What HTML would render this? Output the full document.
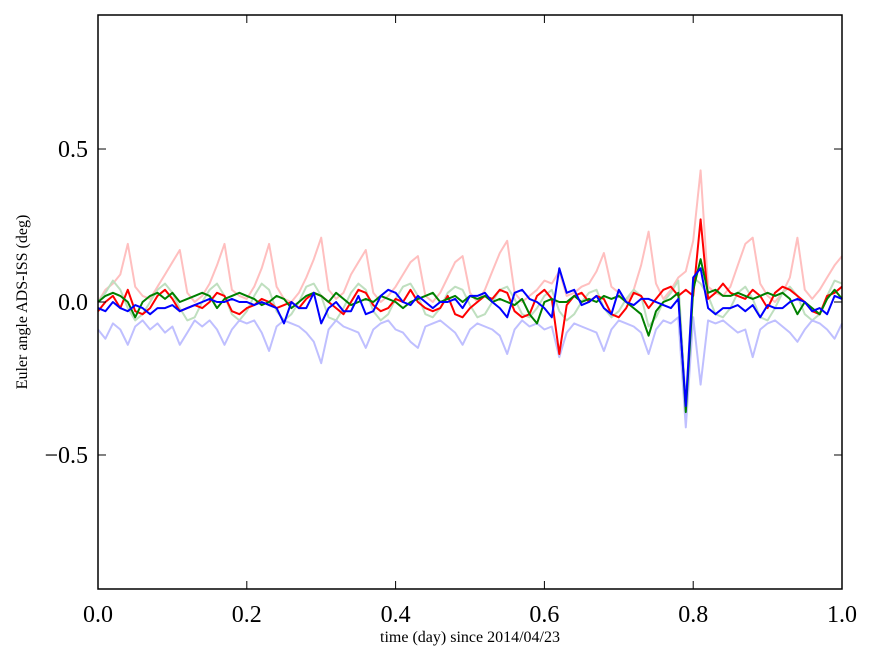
<!DOCTYPE html>
<html><head><meta charset="utf-8">
<style>
html,body{margin:0;padding:0;background:#fff;}
svg{display:block;font-family:"Liberation Serif",serif;}
</style></head>
<body>
<svg id="chart" width="875" height="662">
<g id="marks"></g>
<g id="axes"></g>
</svg>
<script>
// x values: 0..1 step 0.01
const pinkVals=[0.0,0.04,0.06,0.09,0.19,0.05,0.02,0.01,0.05,0.09,0.13,0.17,0.03,0.0,0.02,0.06,0.12,0.19,0.04,0.02,0.01,0.05,0.11,0.19,0.05,0.01,0.0,0.03,0.08,0.14,0.21,0.04,0.01,0.03,0.09,0.13,0.17,0.03,0.0,0.02,0.05,0.09,0.13,0.15,0.02,0.0,0.03,0.08,0.13,0.15,0.03,0.0,0.04,0.1,0.16,0.20,0.03,0.0,0.02,0.04,0.07,0.06,0.1,0.02,0.03,0.05,0.06,0.10,0.16,0.05,0.03,0.0,0.04,0.12,0.23,0.06,0.01,0.04,0.08,0.1,0.2,0.43,0.05,0.03,0.02,0.05,0.12,0.19,0.21,0.06,0.02,0.0,0.03,0.08,0.21,0.04,0.01,0.04,0.08,0.12,0.15];
const lightBlueVals=[-0.09,-0.12,-0.07,-0.09,-0.14,-0.08,-0.06,-0.09,-0.07,-0.1,-0.08,-0.14,-0.1,-0.06,-0.08,-0.06,-0.09,-0.14,-0.09,-0.06,-0.07,-0.06,-0.1,-0.16,-0.08,-0.06,-0.07,-0.08,-0.1,-0.13,-0.2,-0.09,-0.06,-0.08,-0.09,-0.1,-0.15,-0.09,-0.07,-0.06,-0.09,-0.1,-0.13,-0.15,-0.08,-0.07,-0.06,-0.08,-0.1,-0.14,-0.09,-0.07,-0.08,-0.09,-0.11,-0.17,-0.09,-0.06,-0.08,-0.07,-0.09,-0.08,-0.18,-0.1,-0.07,-0.08,-0.09,-0.1,-0.16,-0.09,-0.06,-0.07,-0.08,-0.1,-0.17,-0.09,-0.06,-0.07,-0.05,-0.41,-0.05,-0.27,-0.06,-0.07,-0.06,-0.08,-0.1,-0.09,-0.18,-0.09,-0.07,-0.06,-0.08,-0.1,-0.13,-0.09,-0.06,-0.07,-0.09,-0.12,-0.07];
const lightGreenVals=[0.0,0.03,0.07,0.04,-0.02,-0.06,-0.04,0.0,0.04,0.06,0.03,-0.02,-0.06,-0.05,0.0,0.04,0.06,0.02,-0.04,-0.06,-0.03,0.02,0.06,0.04,-0.03,-0.06,-0.04,0.0,0.05,0.06,0.02,-0.05,-0.06,-0.02,0.03,0.06,0.04,-0.03,-0.06,-0.04,0.01,0.05,0.06,0.02,-0.04,-0.05,-0.02,0.03,0.05,0.04,-0.01,-0.05,-0.04,0.0,0.04,0.05,0.01,-0.04,-0.05,-0.02,0.02,0.04,-0.03,-0.06,-0.04,0.0,0.03,0.04,-0.02,-0.05,-0.03,0.01,0.04,0.02,-0.08,-0.05,0.0,0.03,0.07,-0.33,0.08,0.06,0.02,-0.04,-0.05,-0.02,0.03,0.05,0.01,-0.05,-0.06,-0.02,0.03,0.05,0.02,-0.04,-0.06,-0.04,0.02,0.07,0.06];
const redVals=[-0.03,0.0,0.02,-0.02,0.04,-0.03,-0.04,-0.02,0.02,0.04,0.01,-0.03,-0.02,-0.01,-0.02,0.0,0.03,0.02,-0.03,-0.04,-0.02,-0.01,0.01,0.0,-0.02,-0.01,0.0,-0.02,0.01,0.03,0.02,0.0,-0.02,-0.04,0.0,0.04,0.03,-0.01,-0.03,-0.02,0.01,0.0,0.04,0.0,-0.02,-0.03,-0.02,0.02,-0.04,-0.05,-0.02,0.0,0.02,0.01,0.04,0.03,-0.03,-0.05,-0.04,0.02,0.04,0.01,-0.17,-0.01,0.02,0.03,0.0,0.02,0.01,-0.04,-0.05,-0.02,0.03,0.02,-0.02,0.01,0.04,0.05,0.02,0.04,0.02,0.27,0.01,0.03,0.06,0.03,0.02,0.01,0.04,0.02,-0.02,0.03,0.05,0.04,0.02,0.0,-0.03,-0.04,0.02,0.03,0.05];
const greenVals=[0.0,0.02,0.03,0.02,0.0,-0.05,0.0,0.02,0.03,0.01,0.03,0.0,0.01,0.02,0.03,0.02,-0.02,0.01,0.02,0.03,0.02,0.01,-0.01,0.0,0.02,0.01,-0.02,0.0,0.02,0.03,0.02,0.0,0.03,0.01,-0.01,0.0,0.01,0.0,0.02,0.01,0.0,-0.02,0.0,0.01,0.02,0.03,0.0,0.01,0.02,0.0,0.02,0.01,0.02,0.0,0.01,0.0,-0.01,0.01,-0.04,-0.07,0.0,0.01,0.0,0.0,0.02,0.0,0.01,0.0,0.02,0.01,0.02,0.0,-0.02,-0.04,-0.11,-0.03,0.0,0.01,0.03,-0.36,0.04,0.14,0.03,0.04,0.02,0.02,0.03,0.02,0.01,0.02,0.03,0.02,0.03,0.01,-0.04,0.0,-0.02,-0.04,0.01,0.04,0.01];
const blueVals=[-0.02,-0.03,0.0,-0.02,-0.03,-0.01,-0.02,-0.04,-0.02,-0.02,-0.01,-0.03,-0.02,-0.01,0.0,0.01,0.0,0.0,0.01,0.0,0.0,-0.01,0.0,-0.01,-0.02,-0.07,0.0,-0.02,-0.02,0.03,-0.07,-0.02,0.0,-0.03,-0.03,0.02,-0.04,-0.03,0.02,0.04,0.03,0.0,-0.01,0.02,0.0,-0.02,0.0,0.0,0.01,-0.02,0.02,0.02,0.03,0.0,-0.02,-0.05,0.03,0.04,0.01,0.0,-0.02,-0.05,0.11,0.03,0.04,-0.01,0.0,0.02,-0.02,-0.04,0.04,0.0,-0.01,0.01,0.01,0.0,-0.01,-0.02,0.01,-0.34,0.08,0.11,-0.02,-0.04,-0.02,-0.02,-0.01,-0.03,-0.01,-0.05,-0.01,-0.02,-0.02,0.0,0.01,0.0,-0.03,-0.02,-0.04,0.02,0.01];
const xTicks=[0,0.2,0.4,0.6,0.8,1.0];
const xTickLabels=["0.0","0.2","0.4","0.6","0.8","1.0"];
const yTicks=[-0.5,0,0.5];
const yTickLabels=["\u22120.5","0.0","0.5"];

const L=98,R=842,T=15,B=589,YMAX=0.938,YMIN=-0.938;
const xs=v=>L+(R-L)*v;
const ys=v=>B-(B-T)*(v-YMIN)/(YMAX-YMIN);
const NS="http://www.w3.org/2000/svg";
const marks=document.getElementById('marks');
const axes=document.getElementById('axes');
function mk(tag,attrs,parent){const e=document.createElementNS(NS,tag);for(const k in attrs)e.setAttribute(k,attrs[k]);parent.appendChild(e);return e;}

const series=[
 [pinkVals,'#ffbfbf','pink-series-line'],
 [lightGreenVals,'#bfdfbf','light-green-series-line'],
 [lightBlueVals,'#bfbfff','light-blue-series-line'],
 [redVals,'#ff0000','red-series-line'],
 [greenVals,'#008000','green-series-line'],
 [blueVals,'#0000ff','blue-series-line']];
series.forEach(s=>{
 const vals=s[0];
 const d=vals.map((v,i)=>(i?'L':'M')+xs(i/(vals.length-1)).toFixed(1)+','+ys(v).toFixed(1)).join('');
 const p=mk('path',{d:d,fill:'none',stroke:s[1],'stroke-width':2,'stroke-linejoin':'round'},marks);
 
 
});

const frame=mk('rect',{x:L,y:T,width:R-L,height:B-T,fill:'none',stroke:'#000','stroke-width':1.5},axes);



xTicks.forEach((v,i)=>{
 const x=xs(v);
 mk('line',{x1:x,x2:x,y1:B,y2:B-8,stroke:'#000'},axes);
 mk('line',{x1:x,x2:x,y1:T,y2:T+8,stroke:'#000'},axes);
 const t=mk('text',{x:x,y:B+33,'text-anchor':'middle','font-size':24},axes);
 t.textContent=xTickLabels[i];
 
 
});
yTicks.forEach((v,i)=>{
 const y=ys(v);
 mk('line',{x1:L,x2:L+8,y1:y,y2:y,stroke:'#000'},axes);
 mk('line',{x1:R,x2:R-8,y1:y,y2:y,stroke:'#000'},axes);
 const t=mk('text',{x:L-10,y:y+8,'text-anchor':'end','font-size':24},axes);
 t.textContent=yTickLabels[i];
 
 
});
const xl=mk('text',{x:(L+R)/2,y:642,'text-anchor':'middle','font-size':16},axes);
xl.textContent='time (day) since 2014/04/23';


const yl=mk('text',{x:0,y:0,'text-anchor':'middle','font-size':16,transform:'translate(27,302) rotate(-90)'},axes);
yl.textContent='Euler angle ADS-ISS (deg)';


</script>
</body></html>
